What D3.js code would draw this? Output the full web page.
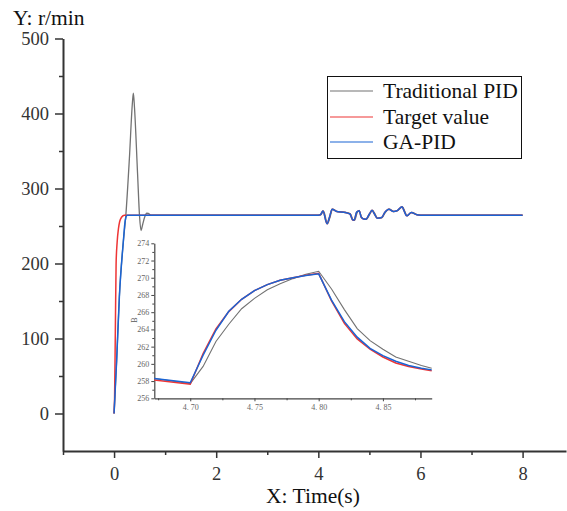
<!DOCTYPE html>
<html><head><meta charset="utf-8">
<script src="https://cdn.jsdelivr.net/npm/d3@7"></script>
</head>
<body style="margin:0;background:#fff">
<svg id="chart" width="567" height="511" style="display:block"></svg>
<script>
// ---------- data ----------
const seriesNames = ["Traditional PID", "Target value", "GA-PID"];
const xTicksMain = [0, 2, 4, 6, 8];
const xMinorMain = [-1, 1, 3, 5, 7];
const yTicksMain = [0, 100, 200, 300, 400, 500];
const yMinorMain = [50, 150, 250, 350, 450];

// main series: [time (s), speed (r/min)]
const pidMain = [[0,0],[0.05,70],[0.104,156],[0.18,228],[0.23,264],[0.3,340],[0.36,415],[0.378,427],[0.40,408],[0.46,320],[0.5,262],[0.528,244],[0.56,252],[0.6,262],[0.64,267],[0.67,266.7],[0.72,264.5],[0.8,264.5],
  [4.0,264.5],[4.05,265],[4.1,270],[4.18,253],[4.23,262],[4.28,272.4],[4.37,269.3],[4.54,268],[4.63,266],[4.68,258.3],[4.71,257.7],[4.76,267.6],[4.80,270.8],[4.84,262.7],[4.89,259.5],[4.94,259],[5.01,266],[5.06,271],[5.11,266],[5.16,260.4],[5.25,261.3],[5.31,268],[5.39,272.4],[5.48,269.3],[5.55,270.3],[5.65,275.6],[5.69,270],[5.74,263.6],[5.83,268],[5.94,264.9],[6.01,264.5],[8,264.5]];
const targetMain = [[0,0],[0.01,20],[0.025,110],[0.04,200],[0.06,228],[0.085,246],[0.11,256],[0.15,262],[0.2,264.5],
  [4.0,264.5],[4.04,264.9],[4.09,270],[4.17,253],[4.22,262],[4.27,272.4],[4.36,269.3],[4.53,268],[4.62,266],[4.67,258.2],[4.70,257.6],[4.75,268.5],[4.80,270.5],[4.84,261.7],[4.89,259.2],[4.93,259],[5.0,266],[5.05,271],[5.1,266],[5.15,260.4],[5.24,261.3],[5.3,268],[5.38,272.4],[5.47,269.3],[5.54,270.3],[5.64,275.6],[5.68,270],[5.73,263.6],[5.82,268],[5.93,264.9],[6.0,264.5],[8,264.5]];
const gaMain = [[0,0],[0.05,70],[0.104,156],[0.18,228],[0.22,258],[0.26,264.5],
  [4.0,264.5],[4.04,264.9],[4.09,270],[4.17,253],[4.22,262],[4.27,272.4],[4.36,269.3],[4.53,268],[4.62,266],[4.67,258.3],[4.70,257.8],[4.75,268.5],[4.80,270.4],[4.84,261.8],[4.89,259.3],[4.93,259],[5.0,266],[5.05,271],[5.1,266],[5.15,260.4],[5.24,261.3],[5.3,268],[5.38,272.4],[5.47,269.3],[5.54,270.3],[5.64,275.6],[5.68,270],[5.73,263.6],[5.82,268],[5.93,264.9],[6.0,264.5],[8,264.5]];

// inset (zoom of 4.67 s – 4.89 s)
const insetTime = [4.672,4.70,4.71,4.72,4.73,4.74,4.75,4.76,4.77,4.78,4.79,4.80,4.81,4.82,4.83,4.84,4.85,4.86,4.87,4.88,4.888];
const insetPID = [258.3,257.7,259.7,262.6,264.6,266.4,267.6,268.6,269.3,269.9,270.4,270.75,268.7,266.3,264.1,262.7,261.7,260.8,260.3,259.8,259.5];
const insetTarget = [258.13,257.63,261.2,264.05,266.07,267.5,268.5,269.2,269.7,270.0,270.3,270.5,267.3,264.7,262.9,261.7,260.8,260.1,259.7,259.4,259.2];
const insetGA = [258.3,257.8,261.0,263.9,266.1,267.5,268.5,269.2,269.7,270.0,270.25,270.45,267.4,264.9,263.1,261.8,260.95,260.3,259.8,259.5,259.3];
const insetXTicks = [4.70, 4.75, 4.80, 4.85];
const insetXMinor = [4.675, 4.725, 4.775, 4.825, 4.875];
const insetYTicks = [256,258,260,262,264,266,268,270,272,274];
const insetYMinor = [257,259,261,263,265,267,269,271,273];

const colors = {pid:"#727272", target:"#ee3535", ga:"#1a64d4"};
const FONT = "Liberation Serif";

// ---------- main chart ----------
const svg = d3.select("#chart");
const x = d3.scaleLinear().domain([-1, 8.85]).range([63, 566]);
const y = d3.scaleLinear().domain([-50, 500]).range([451, 38.5]);
const axisColor = "#333";

function addText(parent, txt, px, py, size, fill) {
  return parent.append("text").attr("x", px).attr("y", py).attr("font-size", size).style("font-family", FONT).attr("fill", fill).text(txt);
}

const gx = svg.append("g").attr("transform", "translate(0,451)")
  .call(d3.axisBottom(x).tickValues(xTicksMain).tickSize(7).tickSizeOuter(0).tickPadding(9).tickFormat(d3.format("d")));
const gxm = svg.append("g").attr("transform", "translate(0,451)")
  .call(d3.axisBottom(x).tickValues(xMinorMain).tickSize(4).tickFormat(""));
gxm.select(".domain").remove();
const gy = svg.append("g").attr("transform", "translate(63,0)")
  .call(d3.axisLeft(y).tickValues(yTicksMain).tickSize(8).tickSizeOuter(0).tickPadding(6).tickFormat(d3.format("d")));
const gym = svg.append("g").attr("transform", "translate(63,0)")
  .call(d3.axisLeft(y).tickValues(yMinorMain).tickSize(4).tickFormat(""));
gym.select(".domain").remove();
[gx, gxm, gy, gym].forEach(g => {
  g.attr("font-family", null);
  g.select(".domain").attr("stroke", axisColor).attr("stroke-width", 2);
  g.selectAll(".tick line").attr("stroke", axisColor).attr("stroke-width", 1.5);
  g.selectAll(".tick text").style("font-family", FONT).attr("font-size", 18.5).attr("fill", "#333");
});

addText(svg, "Y: r/min", 13, 25, 21.5, "#111");
addText(svg, "X: Time(s)", 313, 503, 21.5, "#111").attr("text-anchor", "middle");

const lineMain = d3.line().x(d => x(d[0])).y(d => y(d[1])).curve(d3.curveMonotoneX);
[[pidMain, colors.pid, 1.3], [targetMain, colors.target, 1.5], [gaMain, colors.ga, 1.5]].forEach(([data, c, w]) => {
  svg.append("path").datum(data).attr("d", lineMain).attr("fill", "none").attr("stroke", c).attr("stroke-width", w).attr("stroke-linejoin", "round");
});

// ---------- legend ----------
const leg = svg.append("g");
leg.append("rect").attr("x", 327.5).attr("y", 76.5).attr("width", 194).attr("height", 82).attr("fill", "#fff").attr("stroke", "#111").attr("stroke-width", 1);
const legColors = [colors.pid, colors.target, colors.ga];
const legY = [91, 117, 142];
seriesNames.forEach((n, i) => {
  leg.append("line").attr("x1", 330).attr("x2", 373).attr("y1", legY[i]).attr("y2", legY[i]).attr("stroke", legColors[i]).attr("stroke-width", 1.2);
  addText(leg, n, 383, legY[i] + 6.8, 21.5, "#111");
});

// ---------- inset ----------
const ix = d3.scaleLinear().domain([4.672, 4.888]).range([154.3, 431.7]);
const iy = d3.scaleLinear().domain([256, 274]).range([398.3, 243.3]);
const ins = svg.append("g");
const insFmt = d => d.toFixed(2).replace(".", ". ");
const ig = [];
ig.push(ins.append("g").attr("transform", "translate(0,398.3)")
  .call(d3.axisBottom(ix).tickValues(insetXTicks).tickSize(3).tickSizeOuter(0).tickPadding(3).tickFormat(insFmt)));
ig.push(ins.append("g").attr("transform", "translate(0,398.3)")
  .call(d3.axisBottom(ix).tickValues(insetXMinor).tickSize(2).tickFormat("")).call(g => g.select(".domain").remove()));
ig.push(ins.append("g").attr("transform", "translate(154.3,0)")
  .call(d3.axisLeft(iy).tickValues(insetYTicks).tickSize(3).tickSizeOuter(0).tickPadding(2).tickFormat(d3.format("d"))));
ig.push(ins.append("g").attr("transform", "translate(154.3,0)")
  .call(d3.axisLeft(iy).tickValues(insetYMinor).tickSize(2).tickFormat("")).call(g => g.select(".domain").remove()));
ig.forEach(g => {
  g.attr("font-family", null);
  g.select(".domain").attr("stroke", "#444").attr("stroke-width", 1.2);
  g.selectAll(".tick line").attr("stroke", "#444").attr("stroke-width", 1);
  g.selectAll(".tick text").style("font-family", FONT).attr("font-size", 8).attr("fill", "#666");
});
addText(ins, "B", 0, 0, 8, "#555").attr("transform", "translate(137,320) rotate(-90)").attr("text-anchor", "middle");

const lineIns = d3.line().x(d => ix(d[0])).y(d => iy(d[1]));
[[insetPID, colors.pid, 1.1], [insetTarget, colors.target, 1.5], [insetGA, colors.ga, 1.5]].forEach(([vals, c, w]) => {
  const data = insetTime.map((t, i) => [t, vals[i]]);
  ins.append("path").datum(data).attr("d", lineIns).attr("fill", "none").attr("stroke", c).attr("stroke-width", w);
});
</script>
</body></html>
